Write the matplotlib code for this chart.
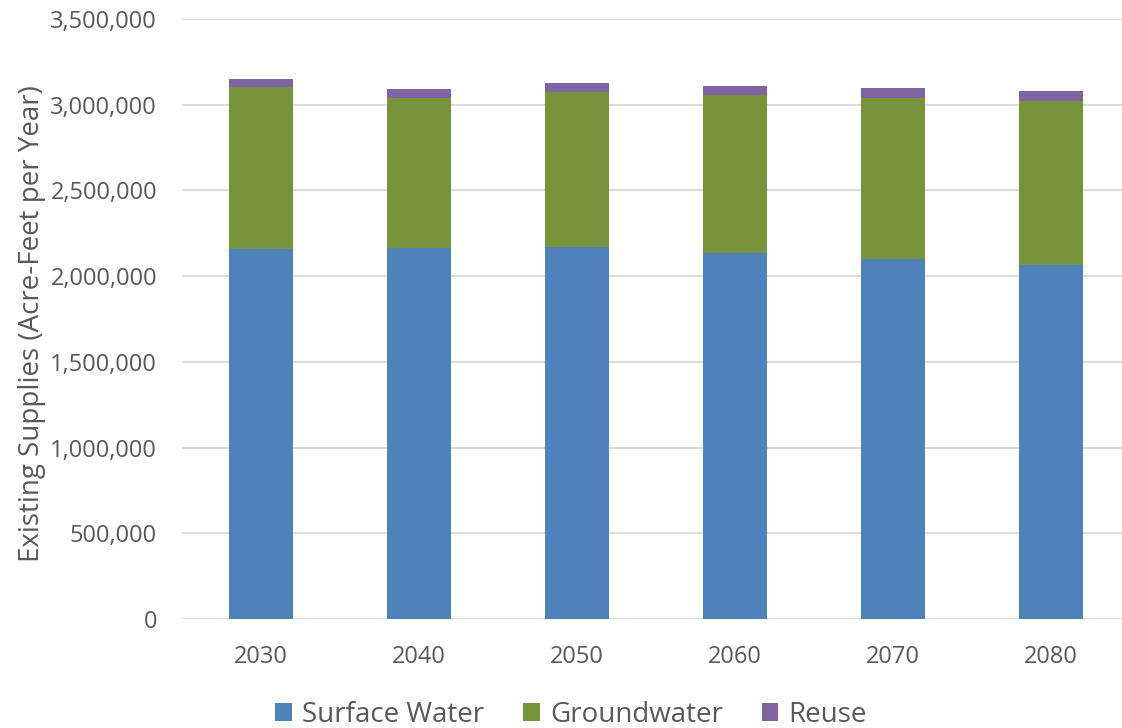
import matplotlib
matplotlib.use("Agg")
import matplotlib.pyplot as plt
from matplotlib.ticker import FuncFormatter

years = ["2030", "2040", "2050", "2060", "2070", "2080"]
surface_water = [2157000, 2165000, 2169000, 2134000, 2099000, 2064000]
groundwater = [946000, 874000, 905000, 922000, 940000, 957000]
reuse = [47000, 52000, 52000, 53000, 58000, 59000]

series_names = ["Surface Water", "Groundwater", "Reuse"]
colors = ["#4F81BD", "#77933C", "#8064A2"]
text_color = "#595959"

plt.rcParams["font.family"] = ["Open Sans", "DejaVu Sans"]

fig = plt.figure(figsize=(11.22, 7.28), dpi=100)
W, H = 1122, 728
ax_w = 1130 - 182
ax = fig.add_axes([182 / W, 1 - 619 / H, ax_w / W, (619 - 19) / H])

x = list(range(len(years)))
width = 0.405
bottom2 = [a + b for a, b in zip(surface_water, groundwater)]
ax.bar(x, surface_water, width, color=colors[0], label=series_names[0], zorder=3)
ax.bar(x, groundwater, width, bottom=surface_water, color=colors[1], label=series_names[1], zorder=3)
ax.bar(x, reuse, width, bottom=bottom2, color=colors[2], label=series_names[2], zorder=3)

ax.set_xlim(-0.5, len(years) - 0.5)
ax.set_ylim(0, 3500000)
ax.set_yticks(range(0, 3500001, 500000))
ax.yaxis.set_major_formatter(FuncFormatter(lambda v, p: f"{int(v):,}"))
ax.set_xticks(x)
ax.set_xticklabels(years)

ax.grid(axis="y", color="#d9d9d9", linewidth=1.3, zorder=0)
ax.set_axisbelow(True)
for s in ax.spines.values():
    s.set_visible(False)
ax.tick_params(axis="both", length=0, labelsize=17, labelcolor=text_color)
ax.tick_params(axis="y", pad=18)
ax.tick_params(axis="x", pad=19)

ax.set_ylabel("Existing Supplies (Acre-Feet per Year)", fontsize=20, color=text_color)
ax.yaxis.set_label_coords(-(182 - 46) / ax_w, 0.492)

leg = fig.legend(loc="center", bbox_to_anchor=(571 / W, 1 - 715 / H), ncol=3, frameon=False,
                 fontsize=20, handlelength=0.6, handleheight=0.6, handletextpad=0.36,
                 columnspacing=1.4, labelcolor=text_color, borderaxespad=0, borderpad=0)

fig.savefig("out.png", dpi=100)
